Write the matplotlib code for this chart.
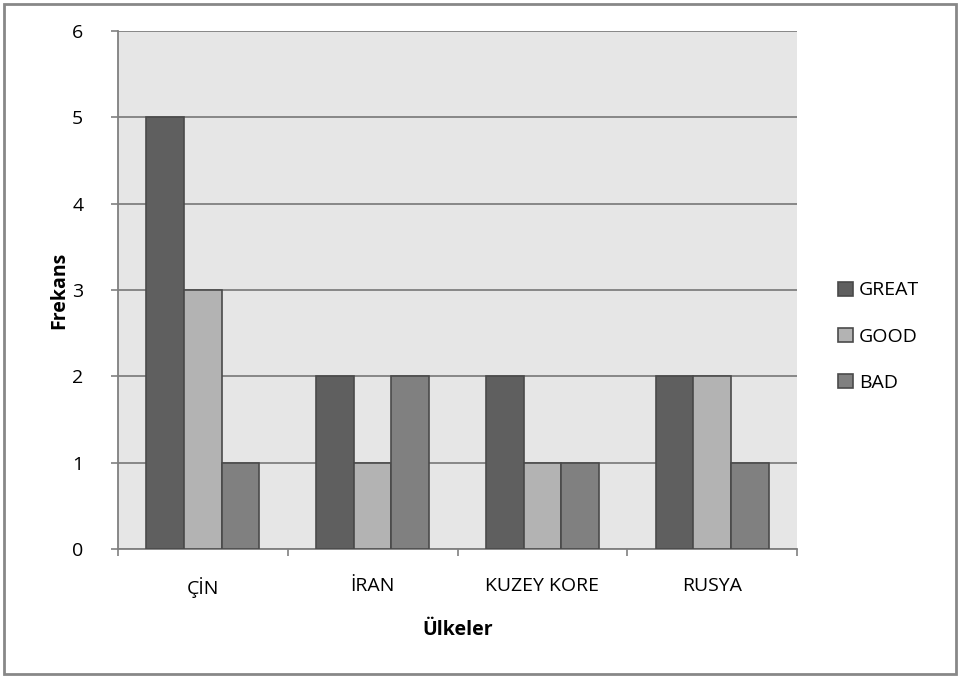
import matplotlib
matplotlib.use("Agg")
import matplotlib.pyplot as plt
import numpy as np
from matplotlib.patches import Rectangle

categories = ["ÇİN", "İRAN", "KUZEY KORE", "RUSYA"]
great = [5, 2, 2, 2]
good = [3, 1, 1, 2]
bad = [1, 2, 1, 1]
series_names = ["GREAT", "GOOD", "BAD"]
colors = ["#5f5f5f", "#b3b3b3", "#808080"]
yticks = [0, 1, 2, 3, 4, 5, 6]

plt.rcParams['font.family'] = ['Open Sans', 'DejaVu Sans']
fs = 14

fig = plt.figure(figsize=(9.61, 6.78), dpi=100)
ax = fig.add_axes([118/961, 1-549/678, (797-118)/961, (549-31)/678])
ax.set_facecolor("#e6e6e6")

x = np.arange(len(categories))
w = 1/4.5
for i, (vals, name, c) in enumerate(zip([great, good, bad], series_names, colors)):
    ax.bar(x + (i-1)*w, vals, width=w, color=c, edgecolor="#4a4a4a", linewidth=1.2,
           label=name, zorder=3)

ax.set_xlim(-0.5, len(categories)-0.5)
ax.set_ylim(0, 6)
ax.set_yticks(yticks)
ax.set_yticklabels([str(v) for v in yticks], fontsize=fs)
ax.yaxis.grid(True, color="#808080", linewidth=1.3, zorder=1)
ax.set_axisbelow(True)

ax.set_xticks(x)
ax.set_xticklabels(categories, fontsize=fs)
ax.set_xticks(np.arange(-0.5, len(categories)), minor=True)
ax.tick_params(axis='x', which='major', length=0, pad=20)
ax.tick_params(axis='x', which='minor', length=5, color="#808080", width=1.2)
ax.tick_params(axis='y', length=5, color="#808080", width=1.2, pad=20)

for s in ["top", "right"]:
    ax.spines[s].set_visible(False)
for s in ["left", "bottom"]:
    ax.spines[s].set_color("#808080")
    ax.spines[s].set_linewidth(1.3)

ax.set_ylabel("Frekans", fontsize=fs, fontweight="bold", labelpad=2)
ax.set_xlabel("Ülkeler", fontsize=fs, fontweight="bold", labelpad=16)

leg = ax.legend(loc="center left", bbox_to_anchor=(1.035, 0.41), frameon=False,
                fontsize=fs, handlelength=0.75, handleheight=0.75,
                handletextpad=0.3, labelspacing=1.45)

fig.patches.append(Rectangle((4/961, 4/678), 952/961, 670/678, transform=fig.transFigure,
                             fill=False, edgecolor="#888888", linewidth=2))

fig.savefig("out.png", dpi=100)
